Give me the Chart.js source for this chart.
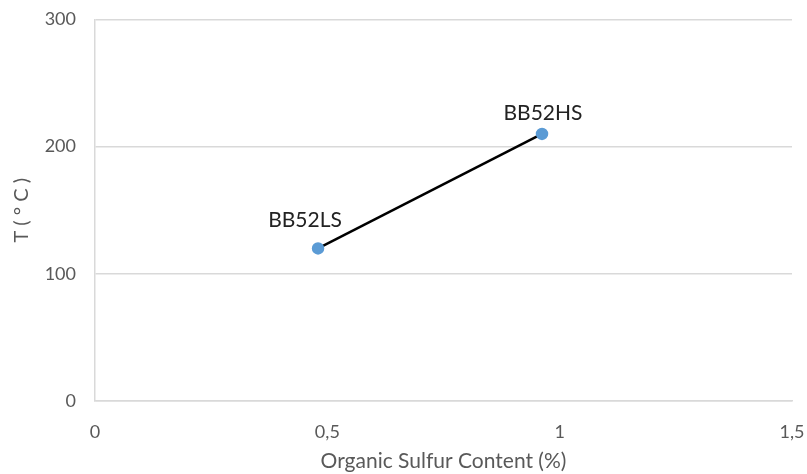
<!DOCTYPE html>
<html>
<head>
<meta charset="utf-8">
<script src="https://cdn.jsdelivr.net/npm/chart.js@4"></script>
<style>
    html, body { margin: 0; padding: 0; background: #fff; }
    #wrap { width: 807px; height: 474px; position: relative; }
</style>
</head>
<body>
<div id="wrap"><canvas id="sulfurChart"></canvas></div>
<script>
// Values
const sampleNames = ['BB52LS', 'BB52HS'];
const sulfurContent = [0.48, 0.962];
const temperature = [120, 210];
const xTicks = [0, 0.5, 1, 1.5];
const yTicks = [0, 100, 200, 300];

const axisGrey = '#d9d9d9';
const textGrey = '#595959';
const fontFamily = 'Lato, "Liberation Sans", sans-serif';

// Draws the sample name above each point
const pointNames = {
    id: 'pointNames',
    afterDatasetsDraw(chart, args, opts) {
        const ctx = chart.ctx;
        const meta = chart.getDatasetMeta(0);
        ctx.save();
        ctx.font = '21px ' + fontFamily;
        ctx.fillStyle = '#222';
        ctx.textAlign = 'center';
        ctx.textBaseline = 'middle';
        meta.data.forEach((pt, i) => {
            const off = opts.offsets[i] || [0, -24];
            ctx.fillText(sampleNames[i], pt.x + off[0], pt.y + off[1]);
        });
        ctx.restore();
    }
};

const points = sulfurContent.map((x, i) => ({ x: x, y: temperature[i] }));

new Chart(document.getElementById('sulfurChart'), {
    type: 'scatter',
    data: {
        datasets: [{
            data: points,
            showLine: true,
            borderColor: '#000',
            borderWidth: 2.5,
            pointBackgroundColor: '#5b9bd5',
            pointBorderColor: '#5b9bd5',
            pointRadius: 5,
            pointHoverRadius: 5
        }]
    },
    options: {
        responsive: true,
        maintainAspectRatio: false,
        animation: false,
        events: [],
        layout: {
            padding: { left: 0, right: 15, top: 19.5, bottom: 0 }
        },
        plugins: {
            legend: { display: false },
            tooltip: { enabled: false },
            pointNames: { offsets: [[-13, -28], [1, -21]] }
        },
        scales: {
            x: {
                type: 'linear',
                min: 0,
                max: 1.5,
                afterBuildTicks: scale => { scale.ticks = xTicks.map(v => ({ value: v })); },
                afterFit: scale => {
                    scale.height = 73;
                    scale.paddingLeft = 0;
                    scale.paddingRight = 0;
                },
                grid: { display: false },
                border: { display: true, color: axisGrey, width: 1.5 },
                ticks: {
                    color: textGrey,
                    font: { family: fontFamily, size: 18 },
                    padding: 12,
                    maxRotation: 0,
                    callback: v => String(v).replace('.', ',')
                },
                title: {
                    display: true,
                    text: 'Organic Sulfur Content (%)',
                    color: textGrey,
                    font: { family: fontFamily, size: 21 },
                    padding: { top: 4, bottom: 0 }
                }
            },
            y: {
                type: 'linear',
                min: 0,
                max: 300,
                afterBuildTicks: scale => { scale.ticks = yTicks.map(v => ({ value: v })); },
                afterFit: scale => {
                    scale.width = 95;
                    scale.paddingTop = 0;
                    scale.paddingBottom = 0;
                },
                grid: { color: axisGrey, lineWidth: 1.5, drawTicks: false },
                border: { display: true, color: axisGrey, width: 1.5 },
                ticks: {
                    color: textGrey,
                    font: { family: fontFamily, size: 18 },
                    padding: 19
                },
                title: {
                    display: true,
                    text: 'T ( ° C )',
                    color: textGrey,
                    font: { family: fontFamily, size: 20 },
                    padding: { top: 10, bottom: 0 }
                }
            }
        }
    },
    plugins: [pointNames]
});
</script>
</body>
</html>
